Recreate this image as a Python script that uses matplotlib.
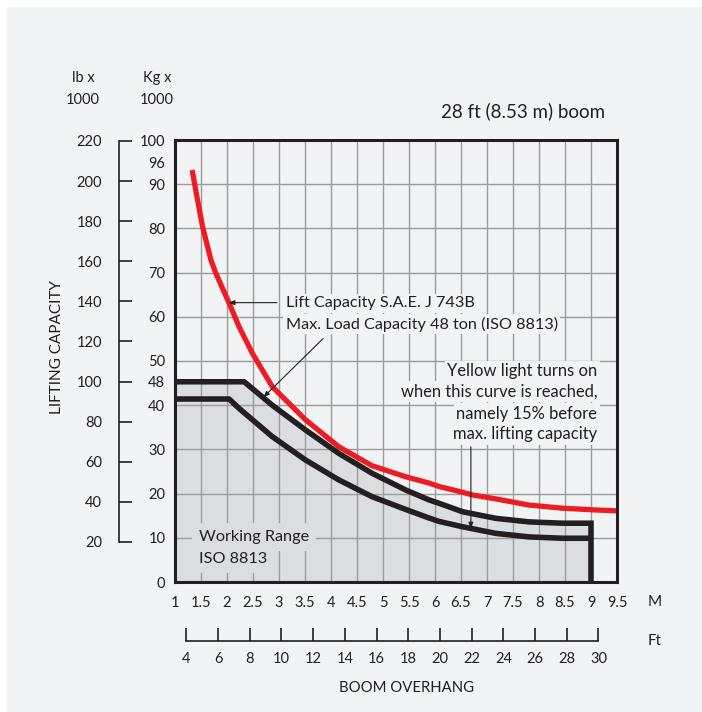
import numpy as np
import matplotlib
matplotlib.use("Agg")
import matplotlib.pyplot as plt
from matplotlib.patches import Rectangle

plt.rcParams['font.family'] = ['Lato', 'DejaVu Sans']

BG = '#f2f3f5'
FILL = '#dcdde0'
GRID = '#9c9c9c'
RED = '#ed1c24'
INK = '#231f20'

# boom overhang (m) vs lifting capacity (kg x 1000)
red_m = [1.33, 1.41, 1.53, 1.69, 1.78, 2.04, 2.23, 2.49, 2.87, 3.51, 4.15, 4.79,
         5.44, 5.88, 6.08, 6.53, 6.72, 7.17, 7.49, 7.81, 8.45, 9.09, 9.5]
red_kg = [93.2, 87.9, 80.4, 72.9, 70.0, 63.1, 57.8, 51.7, 44.2, 36.7, 30.6, 26.3,
          23.8, 22.4, 21.6, 20.3, 19.7, 18.8, 18.1, 17.4, 16.7, 16.3, 16.1]

upper_m = [1.0, 2.33, 2.87, 3.51, 4.15, 4.79, 5.44, 5.88, 6.08, 6.53, 7.17,
           7.81, 8.45, 9.0]
upper_kg = [45.3, 45.3, 40.0, 34.4, 29.1, 24.6, 20.8, 18.6, 17.8, 15.9, 14.4,
            13.6, 13.3, 13.3]

lower_m = [1.0, 2.04, 2.23, 2.87, 3.51, 4.15, 4.79, 5.44, 5.88, 6.08, 6.53, 7.17,
           7.81, 8.45, 9.0]
lower_kg = [41.4, 41.4, 39.3, 32.9, 27.6, 23.1, 19.3, 16.4, 14.5, 13.7, 12.5, 11.0,
            10.2, 9.9, 9.9]

max_reach = 9.0

m_ticks = [1, 1.5, 2, 2.5, 3, 3.5, 4, 4.5, 5, 5.5, 6, 6.5, 7, 7.5, 8, 8.5, 9, 9.5]
m_grid = m_ticks[1:-1]
kg_ticks = [0, 10, 20, 30, 40, 45.3, 50, 60, 70, 80, 90, 94.8, 100]
kg_labels = ['0', '10', '20', '30', '40', '48', '50', '60', '70', '80', '90', '96', '100']
kg_grid = [10, 20, 30, 40, 50, 60, 70, 80, 90]
lb_ticks = [20, 40, 60, 80, 100, 120, 140, 160, 180, 200, 220]
ft_ticks = [4, 6, 8, 10, 12, 14, 16, 18, 20, 22, 24, 26, 28, 30]

W, H = 702, 712


def fxy(px, py):
    return px / W, 1 - py / H


fig = plt.figure(figsize=(W / 100, H / 100), dpi=100, facecolor='white')
fig.add_artist(Rectangle((7 / W, 0), 1, 1 - 7 / H, transform=fig.transFigure,
                         facecolor=BG, edgecolor='none', zorder=-10))

ax = fig.add_axes([175 / W, 130 / H, 442 / W, 442 / H])
ax.set_facecolor(BG)
ax.set_xlim(1, 9.5)
ax.set_ylim(0, 100)

ax.fill_between(upper_m, upper_kg, 0, color=FILL, lw=0, zorder=0.5)
ax.vlines(m_grid, 0, 100, colors=GRID, lw=1.0, zorder=1)
ax.hlines(kg_grid, 1, 9.5, colors=GRID, lw=1.0, zorder=1)

ax.plot(red_m, red_kg, color=RED, lw=3.8, solid_capstyle='butt', zorder=5)
ax.plot(upper_m + [max_reach], upper_kg + [0], color=INK, lw=4,
        solid_joinstyle='miter', solid_capstyle='butt', zorder=5)
ax.plot(lower_m, lower_kg, color=INK, lw=4, solid_capstyle='butt', zorder=5)

for s in ax.spines.values():
    s.set_linewidth(2.2)
    s.set_color(INK)
    s.set_zorder(6)

ax.set_xticks(m_ticks)
ax.set_xticklabels([('%g' % v) for v in m_ticks])
ax.set_yticks(kg_ticks)
ax.set_yticklabels(kg_labels)
ax.tick_params(axis='both', length=0, labelsize=10.5, colors=INK)
ax.tick_params(axis='y', pad=7)
ax.tick_params(axis='x', pad=10)

# pounds scale on the left
lb = ax.secondary_yaxis(-0.127, functions=(lambda k: k * 2.20462, lambda p: p / 2.20462))
lb.set_yticks(lb_ticks)
lb.spines['left'].set_bounds(20, 220)
lb.spines['left'].set_linewidth(1.2)
lb.spines['left'].set_color(INK)
lb.tick_params(direction='in', length=9, width=1.2, pad=12, labelsize=10.5, colors=INK)

# feet scale under the metres
ft = ax.secondary_xaxis(-59 / 442, functions=(lambda m: m * 3.28084, lambda f: f / 3.28084))
ft.set_xticks(ft_ticks)
ft.spines['bottom'].set_bounds(4, 30)
ft.spines['bottom'].set_linewidth(1.2)
ft.spines['bottom'].set_color(INK)
ft.tick_params(direction='in', length=9.5, width=1.2, pad=8, labelsize=10.5, colors=INK)

# annotations
box = dict(boxstyle='square,pad=0.15', fc=BG, ec='none')
ax.text(3.13, 63.1, 'Lift Capacity S.A.E. J 743B', fontsize=11.7, color=INK,
        va='center', ha='left', bbox=box, zorder=3)
ax.text(3.13, 58.3, 'Max. Load Capacity 48 ton (ISO 8813)', fontsize=11.7, color=INK,
        va='center', ha='left', bbox=box, zorder=3)

yellow = ['Yellow light turns on', 'when this curve is reached,',
          'namely 15% before', 'max. lifting capacity']
for line, yy in zip(yellow, [47.7, 43.0, 38.1, 33.4]):
    ax.text(9.12, yy, line, fontsize=11.9, color=INK, va='center', ha='right',
            bbox=box, zorder=3)

wbox = dict(boxstyle='square,pad=0.45', fc=FILL, ec='none')
ax.text(1.46, 10.2, 'Working Range', fontsize=11.7, color=INK,
        va='center', ha='left', zorder=3, bbox=wbox)
ax.text(1.46, 5.2, 'ISO 8813', fontsize=11.7, color=INK,
        va='center', ha='left', zorder=3, bbox=wbox)

arrow = dict(arrowstyle='-|>,head_length=0.35,head_width=0.14', color=INK,
             lw=0.8, shrinkA=0, shrinkB=0)
ax.annotate('', xy=(2.03, 63.2), xytext=(2.96, 63.2), arrowprops=arrow, zorder=7)
ax.annotate('', xy=(2.70, 41.8), xytext=(3.85, 55.1), arrowprops=arrow, zorder=7)
ax.annotate('', xy=(6.69, 12.1), xytext=(6.69, 30.6), arrowprops=arrow, zorder=7)

fig.text(*fxy(523, 111), '28 ft (8.53 m) boom', fontsize=13.5, color=INK,
         ha='center', va='center')
fig.text(*fxy(83, 78), 'lb x', fontsize=10.5, color=INK, ha='center', va='center')
fig.text(*fxy(83, 100), '1000', fontsize=10.5, color=INK, ha='center', va='center')
fig.text(*fxy(157, 78), 'Kg x', fontsize=10.5, color=INK, ha='center', va='center')
fig.text(*fxy(157, 100), '1000', fontsize=10.5, color=INK, ha='center', va='center')
fig.text(*fxy(57, 347), 'LIFTING CAPACITY', fontsize=11, color=INK,
         ha='center', va='center', rotation=90)
fig.text(*fxy(655, 602), 'M', fontsize=11, color=INK, ha='center', va='center')
fig.text(*fxy(655, 641), 'Ft', fontsize=11, color=INK, ha='center', va='center')
fig.text(*fxy(407, 688), 'BOOM OVERHANG', fontsize=10.7, color=INK,
         ha='center', va='center')

fig.savefig('out.png', dpi=100, facecolor=fig.get_facecolor())
